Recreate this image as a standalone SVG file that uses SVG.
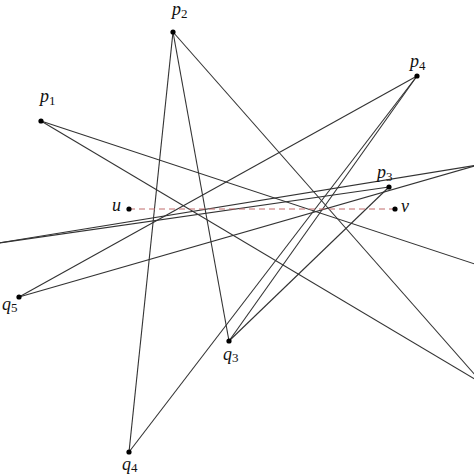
<svg xmlns="http://www.w3.org/2000/svg" width="474" height="474" viewBox="0 0 474 474">
<style>
.e{stroke:#333;stroke-width:1.1;fill:none}
.d{stroke:#c06a6a;stroke-width:1;stroke-dasharray:6 4;fill:none}
.pt{fill:#000}
.l{font-family:"Liberation Serif","DejaVu Serif",serif;font-style:italic;font-size:18px;fill:#111}
.s{font-size:13px;font-style:normal}
</style>
<rect width="474" height="474" fill="#fff"/>
<g id="connectors">
<line class="e" x1="41" y1="121" x2="490" y2="269"/>
<line class="e" x1="41" y1="121" x2="483" y2="384"/>
<line class="e" x1="173" y1="32" x2="483" y2="384"/>
<line class="e" x1="173" y1="32" x2="129" y2="452"/>
<line class="e" x1="173" y1="32" x2="229" y2="341"/>
<line class="e" x1="417" y1="76" x2="19" y2="297"/>
<line class="e" x1="417" y1="76" x2="129" y2="452"/>
<line class="e" x1="417" y1="76" x2="229" y2="341"/>
<line class="e" x1="389" y1="187" x2="229" y2="341"/>
<line class="e" x1="389" y1="187" x2="-8" y2="244"/>
<line class="e" x1="-8" y1="244" x2="478" y2="165"/>
<line class="e" x1="19" y1="297" x2="478" y2="165"/>
<line class="d" x1="129" y1="209" x2="395" y2="209"/>
</g>
<g id="p1"><circle class="pt" cx="41" cy="121" r="2.6"/><text class="l" x="40" y="102">p<tspan class="s" dy="3">1</tspan></text></g>
<g id="p2"><circle class="pt" cx="173" cy="32" r="2.6"/><text class="l" x="172" y="15">p<tspan class="s" dy="3">2</tspan></text></g>
<g id="p3"><circle class="pt" cx="389" cy="187" r="2.6"/><text class="l" x="377" y="178">p<tspan class="s" dy="3">3</tspan></text></g>
<g id="p4"><circle class="pt" cx="417" cy="76" r="2.6"/><text class="l" x="410" y="67">p<tspan class="s" dy="3">4</tspan></text></g>
<g id="u"><circle class="pt" cx="129" cy="209" r="2.6"/><text class="l" x="112" y="211">u</text></g>
<g id="v"><circle class="pt" cx="395" cy="209" r="2.6"/><text class="l" x="401" y="212">v</text></g>
<g id="q5"><circle class="pt" cx="19" cy="297" r="2.6"/><text class="l" x="2" y="310">q<tspan class="s" dy="2">5</tspan></text></g>
<g id="q3"><circle class="pt" cx="229" cy="341" r="2.6"/><text class="l" x="223" y="360">q<tspan class="s" dy="2">3</tspan></text></g>
<g id="q4"><circle class="pt" cx="129" cy="452" r="2.6"/><text class="l" x="122" y="470">q<tspan class="s" dy="2">4</tspan></text></g>
</svg>
